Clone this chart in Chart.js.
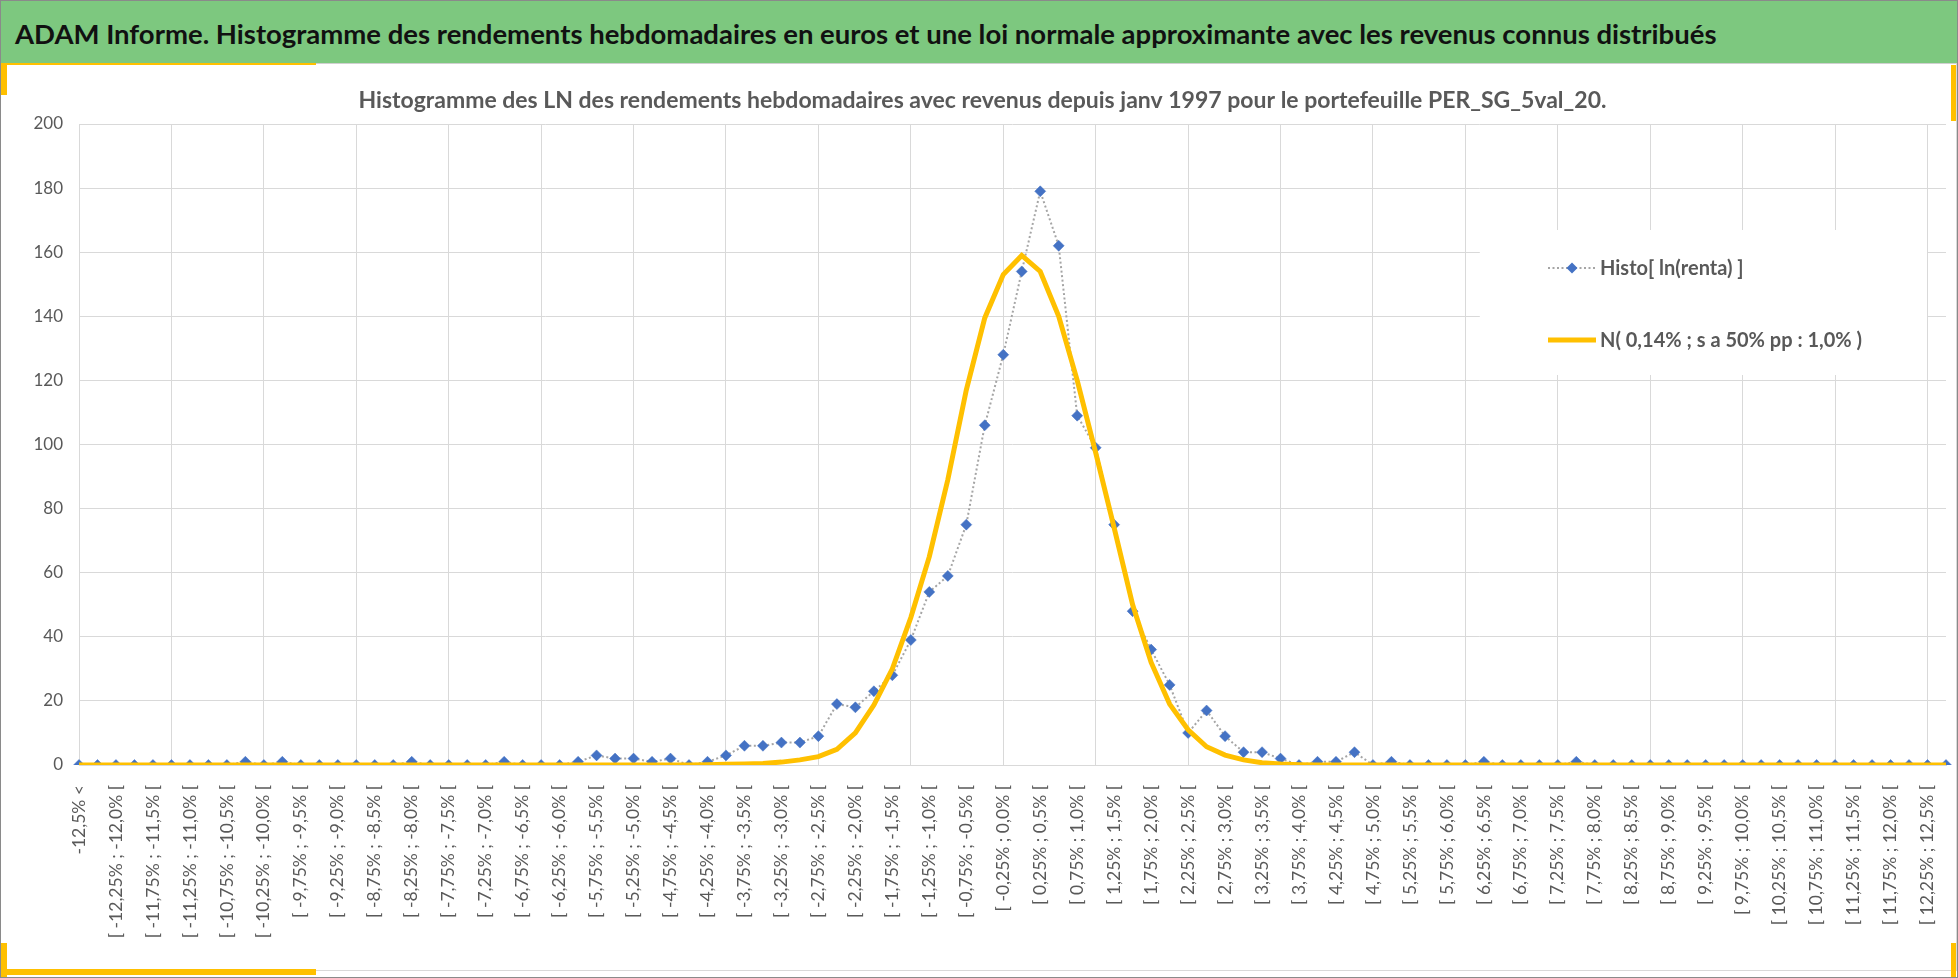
<!DOCTYPE html>
<html lang="fr">
<head>
<meta charset="utf-8">
<title>Histogramme des rendements hebdomadaires</title>
<script src="https://cdn.jsdelivr.net/npm/chart.js@4.4.1/dist/chart.umd.min.js"></script>
<style>
  html, body { margin: 0; padding: 0; background: #fff; }
  #page { position: relative; width: 1958px; height: 978px; box-sizing: border-box; border: 1px solid #8a8a8a; overflow: hidden; }
  #entete { position: absolute; left: 0; top: 0; width: 100%; height: 62px; background: #7dc87f; border-bottom: 1px solid #d0d0d0; }
  #entete h1 { margin: 0; padding-left: 14px; font: bold 27.5px/66px Lato, sans-serif; color: #111; white-space: nowrap; }
  #cadre { position: absolute; left: 0; top: 62px; width: 1956px; height: 914px; }
  #bord { position: absolute; left: 0; top: 63px; width: 1955px; height: 906px; border-right: 1px solid #d9d9d9; border-bottom: 1px solid #d9d9d9; }
  .jaune { position: absolute; background: #ffc000; }
</style>
</head>
<body>
<div id="page">
  <div id="entete"><h1>ADAM Informe. Histogramme des rendements hebdomadaires en euros et une loi normale approximante avec les revenus connus distribués</h1></div>
  <div id="bord"></div>
  <div id="cadre"><canvas id="graphique" width="1956" height="914"></canvas></div>
  <div class="jaune" style="left:0;top:62px;width:315px;height:2px"></div>
  <div class="jaune" style="left:0;top:62px;width:6px;height:32px"></div>
  <div class="jaune" style="left:0;top:968px;width:315px;height:6px"></div>
  <div class="jaune" style="left:0;top:942px;width:6px;height:34px"></div>
  <div class="jaune" style="left:1950px;top:64px;width:5px;height:56px"></div>
  <div class="jaune" style="left:1950px;top:942px;width:5px;height:34px"></div>
</div>
<script>
// Classes de rendement (ln des rendements hebdomadaires)
const classes = [
  '-12,5% <',
  '[ -12,5% ; -12,25% [', '[ -12,25% ; -12,0% [', '[ -12,0% ; -11,75% [', '[ -11,75% ; -11,5% [',
  '[ -11,5% ; -11,25% [', '[ -11,25% ; -11,0% [', '[ -11,0% ; -10,75% [', '[ -10,75% ; -10,5% [',
  '[ -10,5% ; -10,25% [', '[ -10,25% ; -10,0% [', '[ -10,0% ; -9,75% [', '[ -9,75% ; -9,5% [',
  '[ -9,5% ; -9,25% [', '[ -9,25% ; -9,0% [', '[ -9,0% ; -8,75% [', '[ -8,75% ; -8,5% [',
  '[ -8,5% ; -8,25% [', '[ -8,25% ; -8,0% [', '[ -8,0% ; -7,75% [', '[ -7,75% ; -7,5% [',
  '[ -7,5% ; -7,25% [', '[ -7,25% ; -7,0% [', '[ -7,0% ; -6,75% [', '[ -6,75% ; -6,5% [',
  '[ -6,5% ; -6,25% [', '[ -6,25% ; -6,0% [', '[ -6,0% ; -5,75% [', '[ -5,75% ; -5,5% [',
  '[ -5,5% ; -5,25% [', '[ -5,25% ; -5,0% [', '[ -5,0% ; -4,75% [', '[ -4,75% ; -4,5% [',
  '[ -4,5% ; -4,25% [', '[ -4,25% ; -4,0% [', '[ -4,0% ; -3,75% [', '[ -3,75% ; -3,5% [',
  '[ -3,5% ; -3,25% [', '[ -3,25% ; -3,0% [', '[ -3,0% ; -2,75% [', '[ -2,75% ; -2,5% [',
  '[ -2,5% ; -2,25% [', '[ -2,25% ; -2,0% [', '[ -2,0% ; -1,75% [', '[ -1,75% ; -1,5% [',
  '[ -1,5% ; -1,25% [', '[ -1,25% ; -1,0% [', '[ -1,0% ; -0,75% [', '[ -0,75% ; -0,5% [',
  '[ -0,5% ; -0,25% [', '[ -0,25% ; 0,0% [', '[ 0,0% ; 0,25% [', '[ 0,25% ; 0,5% [',
  '[ 0,5% ; 0,75% [', '[ 0,75% ; 1,0% [', '[ 1,0% ; 1,25% [', '[ 1,25% ; 1,5% [',
  '[ 1,5% ; 1,75% [', '[ 1,75% ; 2,0% [', '[ 2,0% ; 2,25% [', '[ 2,25% ; 2,5% [',
  '[ 2,5% ; 2,75% [', '[ 2,75% ; 3,0% [', '[ 3,0% ; 3,25% [', '[ 3,25% ; 3,5% [',
  '[ 3,5% ; 3,75% [', '[ 3,75% ; 4,0% [', '[ 4,0% ; 4,25% [', '[ 4,25% ; 4,5% [',
  '[ 4,5% ; 4,75% [', '[ 4,75% ; 5,0% [', '[ 5,0% ; 5,25% [', '[ 5,25% ; 5,5% [',
  '[ 5,5% ; 5,75% [', '[ 5,75% ; 6,0% [', '[ 6,0% ; 6,25% [', '[ 6,25% ; 6,5% [',
  '[ 6,5% ; 6,75% [', '[ 6,75% ; 7,0% [', '[ 7,0% ; 7,25% [', '[ 7,25% ; 7,5% [',
  '[ 7,5% ; 7,75% [', '[ 7,75% ; 8,0% [', '[ 8,0% ; 8,25% [', '[ 8,25% ; 8,5% [',
  '[ 8,5% ; 8,75% [', '[ 8,75% ; 9,0% [', '[ 9,0% ; 9,25% [', '[ 9,25% ; 9,5% [',
  '[ 9,5% ; 9,75% [', '[ 9,75% ; 10,0% [', '[ 10,0% ; 10,25% [', '[ 10,25% ; 10,5% [',
  '[ 10,5% ; 10,75% [', '[ 10,75% ; 11,0% [', '[ 11,0% ; 11,25% [', '[ 11,25% ; 11,5% [',
  '[ 11,5% ; 11,75% [', '[ 11,75% ; 12,0% [', '[ 12,0% ; 12,25% [', '[ 12,25% ; 12,5% [',
  '12,5% <='
];

// Nombre de semaines par classe
const histoRenta = [
  0, 0, 0, 0, 0, 0, 0, 0, 0, 1,
  0, 1, 0, 0, 0, 0, 0, 0, 1, 0,
  0, 0, 0, 1, 0, 0, 0, 1, 3, 2,
  2, 1, 2, 0, 1, 3, 6, 6, 7, 7,
  9, 19, 18, 23, 28, 39, 54, 59, 75, 106,
  128, 154, 179, 162, 109, 99, 75, 48, 36, 25,
  10, 17, 9, 4, 4, 2, 0, 1, 1, 4,
  0, 1, 0, 0, 0, 0, 1, 0, 0, 0,
  0, 1, 0, 0, 0, 0, 0, 0, 0, 0,
  0, 0, 0, 0, 0, 0, 0, 0, 0, 0,
  0, 0
];

// Loi normale approximante
const loiNormale = [
  0, 0, 0, 0, 0, 0, 0, 0, 0, 0,
  0, 0, 0, 0, 0, 0, 0, 0, 0, 0,
  0, 0, 0, 0, 0, 0, 0, 0, 0, 0,
  0, 0, 0, 0, 0.1, 0.2, 0.3, 0.5, 0.9, 1.6,
  2.6, 4.9, 10, 18.7, 30, 46, 65, 89, 117, 139.5,
  153, 159, 154, 140, 120, 97.5, 74, 50, 32, 19,
  11, 5.7, 3.1, 1.6, 0.7, 0.3, 0.1, 0, 0, 0,
  0, 0, 0, 0, 0, 0, 0, 0, 0, 0,
  0, 0, 0, 0, 0, 0, 0, 0, 0, 0,
  0, 0, 0, 0, 0, 0, 0, 0, 0, 0,
  0, 0
];

const graduationsY = [0, 20, 40, 60, 80, 100, 120, 140, 160, 180, 200];

const nomsSeries = ['Histo[ ln(renta) ]', 'N( 0,14% ; s a 50% pp : 1,0% )'];

const GRIS_TEXTE = '#595959';
const GRIS_GRILLE = '#d9d9d9';
const BLEU = '#4472c4';
const OR = '#ffc000';
const POLICE = "Lato, 'Noto Sans', sans-serif";

// Légende dessinée dans le graphique, sur fond blanc
const legendeInterne = {
  id: 'legendeInterne',
  beforeDatasetsDraw(chart) {
    const ctx = chart.ctx;
    ctx.save();
    ctx.fillStyle = '#fff';
    ctx.fillRect(1479, 167, 447, 145);

    // Série 1 : pointillé gris + losange bleu
    ctx.strokeStyle = '#a5a5a5';
    ctx.lineWidth = 2;
    ctx.setLineDash([2, 2.5]);
    ctx.beginPath();
    ctx.moveTo(1547, 205);
    ctx.lineTo(1594, 205);
    ctx.stroke();
    ctx.setLineDash([]);
    ctx.fillStyle = BLEU;
    ctx.beginPath();
    ctx.moveTo(1571, 199.5);
    ctx.lineTo(1576.5, 205);
    ctx.lineTo(1571, 210.5);
    ctx.lineTo(1565.5, 205);
    ctx.closePath();
    ctx.fill();

    // Série 2 : trait jaune épais
    ctx.strokeStyle = OR;
    ctx.lineWidth = 5;
    ctx.beginPath();
    ctx.moveTo(1547, 277);
    ctx.lineTo(1595, 277);
    ctx.stroke();

    ctx.fillStyle = GRIS_TEXTE;
    ctx.font = 'bold 20px ' + POLICE;
    ctx.textBaseline = 'middle';
    ctx.textAlign = 'left';
    ctx.fillText(nomsSeries[0], 1599, 206);
    ctx.fillText(nomsSeries[1], 1599, 278);
    ctx.restore();
  }
};

function afficherGraphique() {
  const canvas = document.getElementById('graphique');
  if (!canvas) {
    console.error('Canvas introuvable.');
    return;
  }

  new Chart(canvas.getContext('2d'), {
    type: 'line',
    data: {
      labels: classes,
      datasets: [
        {
          label: nomsSeries[1],
          data: loiNormale,
          borderColor: OR,
          borderWidth: 5,
          pointRadius: 0,
          tension: 0,
          order: 0
        },
        {
          label: nomsSeries[0],
          data: histoRenta,
          borderColor: '#a5a5a5',
          borderWidth: 2,
          borderDash: [2, 2.5],
          pointStyle: 'rectRot',
          pointRadius: 5.5,
          pointBackgroundColor: BLEU,
          pointBorderColor: BLEU,
          pointBorderWidth: 0.5,
          tension: 0,
          order: 1
        }
      ]
    },
    options: {
      responsive: false,
      animation: false,
      devicePixelRatio: 1,
      layout: { padding: { left: 18, right: 11, top: 0, bottom: 12 } },
      plugins: {
        legend: { display: false },
        tooltip: { enabled: false },
        title: {
          display: true,
          text: 'Histogramme des LN des rendements hebdomadaires avec revenus depuis janv 1997 pour le portefeuille PER_SG_5val_20.',
          color: GRIS_TEXTE,
          font: { family: POLICE, size: 23, weight: 'bold', lineHeight: 1.2 },
          padding: { top: 24, bottom: 9.4 }
        }
      },
      scales: {
        x: {
          offset: false,
          grid: {
            color: (c) => (c.index % 5 === 0 ? GRIS_GRILLE : 'rgba(0,0,0,0)'),
            lineWidth: 1,
            drawTicks: false
          },
          border: { color: GRIS_GRILLE },
          ticks: {
            autoSkip: false,
            minRotation: 90,
            maxRotation: 90,
            padding: 20,
            color: GRIS_TEXTE,
            font: { family: POLICE, size: 17.5 },
            callback: function (value, index) {
              return index % 2 === 0 ? this.getLabelForValue(value) : '';
            }
          },
          afterFit: (scale) => {
            scale.height = 200;
            scale.paddingLeft = 0;
            scale.paddingRight = 0;
          }
        },
        y: {
          min: graduationsY[0],
          max: graduationsY[graduationsY.length - 1],
          afterBuildTicks: (scale) => { scale.ticks = graduationsY.map((v) => ({ value: v })); },
          grid: { color: GRIS_GRILLE, lineWidth: 1, drawTicks: false },
          border: { display: false },
          ticks: {
            padding: 16,
            color: GRIS_TEXTE,
            font: { family: POLICE, size: 17 }
          },
          afterFit: (scale) => { scale.width = 60; }
        }
      }
    },
    plugins: [legendeInterne]
  });
}

document.addEventListener('DOMContentLoaded', () => {
  try {
    afficherGraphique();
  } catch (erreur) {
    console.error('Erreur lors du tracé du graphique :', erreur);
  }
});
</script>
</body>
</html>
